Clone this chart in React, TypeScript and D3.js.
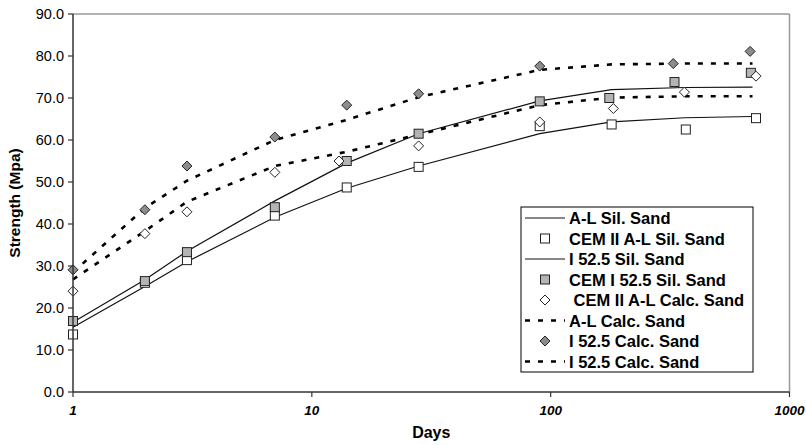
import React from "react";
import * as d3 from "d3";

const yTicks = [0, 10, 20, 30, 40, 50, 60, 70, 80, 90];
const xTicks = [1, 10, 100, 1000];

// fitted curves
const fitDays = [1, 2, 3, 7, 14, 28, 90, 180, 365, 700];
const fitSilCemII = [15.4, 25.1, 31.0, 41.6, 48.5, 53.8, 61.5, 64.3, 65.3, 65.6];
const fitSilCemI = [16.6, 26.7, 33.5, 45.5, 54.5, 61.5, 69.3, 72.0, 72.5, 72.6];
const fitCalcCemII = [26.8, 38.3, 45.3, 53.8, 57.2, 61.3, 68.3, 70.1, 70.4, 70.4];
const fitCalcCemI = [28.5, 43.8, 50.3, 60.0, 64.8, 70.2, 76.7, 78.0, 78.2, 78.2];

// measured points
const silCemIIDays = [1, 2, 3, 7, 14, 28, 90, 180, 368, 724];
const silCemIIVals = [13.7, 26.0, 31.4, 42.0, 48.7, 53.6, 63.3, 63.7, 62.5, 65.2];
const silCemIDays = [1, 2, 3, 7, 14, 28, 90, 176, 330, 689];
const silCemIVals = [16.9, 26.4, 33.3, 44.0, 55.0, 61.5, 69.2, 70.0, 73.8, 76.0];
const calcCemIIDays = [1, 2, 3, 7, 13, 28, 90, 183, 363, 724];
const calcCemIIVals = [24.0, 37.7, 42.9, 52.3, 55.0, 58.6, 64.3, 67.5, 71.4, 75.2];
const calcCemIDays = [1, 2, 3, 7, 14, 28, 90, 326, 684];
const calcCemIVals = [29.1, 43.4, 53.8, 60.7, 68.3, 71.0, 77.6, 78.2, 81.1];

const legendLabels = [
  "A-L Sil. Sand",
  "CEM II A-L Sil. Sand",
  "I 52.5 Sil. Sand",
  "CEM I 52.5 Sil. Sand",
  " CEM II A-L Calc. Sand",
  "A-L Calc. Sand",
  "I 52.5 Calc. Sand",
  "I 52.5 Calc. Sand",
];
const legendKinds = ["solid", "whiteSq", "solid", "greySq", "whiteDia", "dash", "greyDia", "dash"];

const W = 806, H = 445;
const L = 73, R = 789.5, T = 14, B = 392;

export default function App() {
  const x = d3.scaleLog().domain([1, 1000]).range([L, R]);
  const y = d3.scaleLinear().domain([0, 90]).range([B, T]);
  const line = (days: number[], vals: number[]) =>
    d3.line<number>().x((_, i) => x(days[i])).y((v) => y(v))(vals) || "";

  const font = "Arial, 'Liberation Sans', sans-serif";
  const dash = "5 8";

  const square = (cx: number, cy: number, fill: string, k: string) => (
    <rect key={k} x={cx - 4.5} y={cy - 4.5} width={9} height={9} fill={fill} stroke="#222" strokeWidth={1} />
  );
  const diamond = (cx: number, cy: number, fill: string, k: string) => (
    <path key={k} d={`M${cx},${cy - 5}L${cx + 5},${cy}L${cx},${cy + 5}L${cx - 5},${cy}Z`} fill={fill} stroke="#222" strokeWidth={1} />
  );

  const legX = 521, legY = 207, legW = 232, legH = 165;
  const rowY = (i: number) => 218 + i * 20.5;

  return (
    <svg width={W} height={H} style={{ position: "absolute", left: 0, top: 0, background: "#fff" }} fontFamily={font}>
      <rect x={0} y={0} width={W} height={H} fill="#fff" />
      {/* plot border */}
      <line x1={L} x2={R} y1={T} y2={T} stroke="#999" strokeWidth={1.5} />
      <line x1={R} x2={R} y1={T} y2={B} stroke="#999" strokeWidth={1.5} />

      {/* lines */}
      <path d={line(fitDays, fitSilCemII)} fill="none" stroke="#111" strokeWidth={1.2} />
      <path d={line(fitDays, fitSilCemI)} fill="none" stroke="#111" strokeWidth={1.2} />
      <path d={line(fitDays, fitCalcCemII)} fill="none" stroke="#000" strokeWidth={2.6} strokeDasharray={dash} />
      <path d={line(fitDays, fitCalcCemI)} fill="none" stroke="#000" strokeWidth={2.6} strokeDasharray={dash} />

      {/* markers */}
      {silCemIIVals.map((v, i) => square(x(silCemIIDays[i]), y(v), "#fff", "a" + i))}
      {silCemIVals.map((v, i) => square(x(silCemIDays[i]), y(v), "#b4b4b4", "b" + i))}
      {calcCemIIVals.map((v, i) => diamond(x(calcCemIIDays[i]), y(v), "#fff", "c" + i))}
      {calcCemIVals.map((v, i) => diamond(x(calcCemIDays[i]), y(v), "#8c8c8c", "d" + i))}

      {/* axes */}
      <line x1={L} x2={L} y1={T} y2={B} stroke="#333" strokeWidth={1.5} />
      <line x1={L} x2={R} y1={B} y2={B} stroke="#333" strokeWidth={1.5} />
      {yTicks.map((t) => (
        <g key={"y" + t}>
          <line x1={L - 5} x2={L} y1={y(t)} y2={y(t)} stroke="#333" strokeWidth={1.2} />
          <text x={L - 9} y={y(t) + 5} textAnchor="end" fontSize={14.5} fill="#000">
            {t.toFixed(1)}
          </text>
        </g>
      ))}
      {xTicks.map((t) => (
        <g key={"x" + t}>
          <line x1={x(t)} x2={x(t)} y1={B} y2={B + 5} stroke="#333" strokeWidth={1.2} />
          <text x={x(t)} y={415} textAnchor="middle" fontSize={13.5} fontWeight="bold" fontStyle="italic" fill="#000">
            {t}
          </text>
        </g>
      ))}
      <text x={(L + R) / 2} y={438} textAnchor="middle" fontSize={16} fontWeight="bold">Days</text>
      <text transform={`translate(20,${(T + B) / 2}) rotate(-90)`} textAnchor="middle" fontSize={15.5} fontWeight="bold">
        Strength (Mpa)
      </text>

      {/* legend */}
      <rect x={legX} y={legY} width={legW} height={legH} fill="#fff" stroke="#000" strokeWidth={1} />
      {legendLabels.map((lab, i) => {
        const ry = rowY(i);
        const k = legendKinds[i];
        let mark: React.ReactNode = null;
        if (k === "solid") mark = <line x1={525} x2={565} y1={ry} y2={ry} stroke="#111" strokeWidth={1.2} />;
        else if (k === "dash") mark = <line x1={525} x2={565} y1={ry} y2={ry} stroke="#000" strokeWidth={2.6} strokeDasharray={dash} />;
        else if (k === "whiteSq") mark = square(545, ry, "#fff", "ls" + i);
        else if (k === "greySq") mark = square(545, ry, "#b4b4b4", "ls" + i);
        else if (k === "whiteDia") mark = diamond(545, ry, "#fff", "ls" + i);
        else mark = diamond(545, ry, "#8c8c8c", "ls" + i);
        return (
          <g key={"l" + i}>
            {mark}
            <text x={569} y={ry + 6} fontSize={16.5} fontWeight="bold" style={{ whiteSpace: "pre" }}>
              {lab}
            </text>
          </g>
        );
      })}
    </svg>
  );
}
